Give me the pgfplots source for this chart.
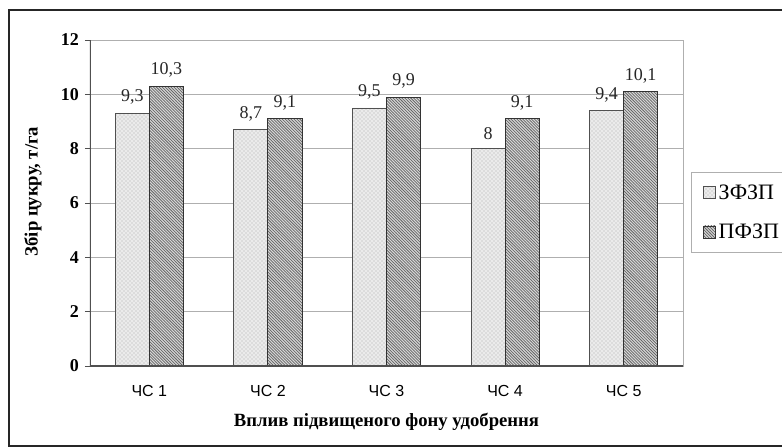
\documentclass[border=0pt]{standalone}
\usepackage{fontspec}
\setmainfont{Liberation Serif}
\setsansfont{Liberation Sans}
\usepackage{pgfplots}
\pgfplotsset{compat=1.18}
\usetikzlibrary{patterns}
\pgfdeclarepatternformonly{dense nw}{\pgfqpoint{-1pt}{-1pt}}{\pgfqpoint{3.2pt}{3.2pt}}{\pgfqpoint{2.2pt}{2.2pt}}{%
  \pgfsetlinewidth{0.55pt}\pgfpathmoveto{\pgfqpoint{0pt}{2.2pt}}\pgfpathlineto{\pgfqpoint{2.3pt}{-0.1pt}}\pgfusepath{stroke}}
\definecolor{gridc}{RGB}{175,175,175}
\definecolor{axc}{RGB}{80,80,80}
\begin{document}
\begin{tikzpicture}
\useasboundingbox (-67.5pt,-60.75pt) rectangle (519pt,274.5pt);
\draw[line width=0.9pt, black!85] (519pt,267pt) -- (-60.75pt,267pt) -- (-60.75pt,-60pt) -- (519pt,-60pt);
\begin{axis}[
  at={(0pt,0pt)}, anchor=south west,
  scale only axis, width=444.75pt, height=244.5pt,
  xmin=-0.5, xmax=4.5, ymin=0, ymax=12,
  ytick={0,2,...,12},
  xtick={0,...,4},
  xticklabels={ЧС 1,ЧС 2,ЧС 3,ЧС 4,ЧС 5},
  extra x ticks={-0.5,0.5,1.5,2.5,3.5,4.5},
  extra x tick labels={},
  extra x tick style={major tick length=3.75pt, tick style={axc, line width=0.5pt}},
  tick align=outside, tick pos=left,
  major tick length=3.75pt,
  x tick style={draw=none},
  y tick style={axc, line width=0.5pt},
  ymajorgrids, grid style={gridc, line width=0.6pt},
  axis line style={gridc, line width=0.6pt},
  ybar=0pt, bar width=25.5pt,
  x tick label style={font=\sffamily\fontsize{12}{14}\selectfont, yshift=-7pt},
  y tick label style={font=\bfseries\fontsize{13.5}{15}\selectfont, /pgf/number format/assume math mode=true, xshift=-1pt},
  xlabel={Вплив підвищеного фону удобрення},
  xlabel style={font=\bfseries\fontsize{14}{16}\selectfont, at={(axis description cs:0.5,0)}, anchor=center, yshift=-42pt},
  ylabel={Збір цукру, т/га},
  ylabel style={font=\bfseries\fontsize{14}{16}\selectfont, at={(axis description cs:0,0.535)}, anchor=center, yshift=42.75pt},
  nodes near coords={\pgfmathprintnumber[use comma,assume math mode=true]{\pgfplotspointmeta}},
  nodes near coords style={font=\fontsize{13.5}{15}\selectfont, anchor=south, yshift=3pt, black!85},
  legend style={at={(1.0135,0.595)}, anchor=north west, draw=gridc, line width=0.6pt,
    font=\fontsize{16.5}{18}\selectfont, row sep=13pt, inner xsep=9pt, inner ysep=7pt},
  legend image code/.code={\draw[#1, line width=0.5pt] (0pt,-4.5pt) rectangle (9pt,4.5pt);},
  legend cell align=left,
]
\addplot[draw=axc, line width=0.6pt, fill=gray!16, postaction={pattern=crosshatch dots, pattern color=gray!65}]
  coordinates {(0,9.3) (1,8.7) (2,9.5) (3,8) (4,9.4)};
\addplot[draw=black!80, line width=0.6pt, fill=gray!30, postaction={pattern=dense nw, pattern color=black!60}]
  coordinates {(0,10.3) (1,9.1) (2,9.9) (3,9.1) (4,10.1)};
\legend{ЗФЗП,ПФЗП}
\draw[axc, line width=0.8pt] (rel axis cs:0,0) -- (rel axis cs:0,1);
\draw[axc, line width=0.8pt] (rel axis cs:0,0) -- (rel axis cs:1,0);
\end{axis}
\end{tikzpicture}
\end{document}
